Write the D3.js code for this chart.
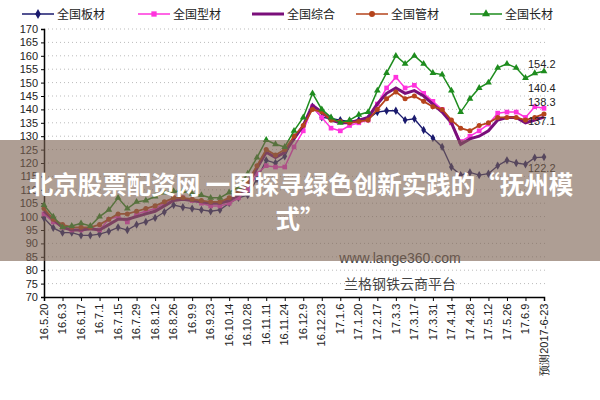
<!DOCTYPE html>
<html><head><meta charset="utf-8">
<script src="https://cdn.jsdelivr.net/npm/d3@7"></script>
<style>body{margin:0;background:#fff}svg{display:block}</style></head>
<body><svg id="c" width="600" height="400"></svg>
<script>
const categories=["16.5.20","16.5.27","16.6.3","16.6.10","16.6.17","16.6.24","16.7.1","16.7.8","16.7.15","16.7.22","16.7.29","16.8.5","16.8.12","16.8.19","16.8.26","16.9.2","16.9.9","16.9.16","16.9.23","16.9.30","16.10.14","16.10.21","16.10.28","16.11.4","16.11.11","16.11.18","16.11.24","16.12.2","16.12.9","16.12.16","16.12.23","16.12.30","17.1.6","17.1.13","17.1.20","17.2.10","17.2.17","17.2.24","17.3.3","17.3.10","17.3.17","17.3.24","17.3.31","17.4.7","17.4.14","17.4.21","17.4.28","17.5.5","17.5.12","17.5.19","17.5.26","17.6.2","17.6.9","17.6.16","预测2017-6-23"];
const yTicks=[70,75,80,85,90,95,100,105,110,115,120,125,130,135,140,145,150,155,160,165,170];
const seriesNames=["全国板材","全国型材","全国综合","全国管材","全国长材"];
const plate=[99.5,95.8,94,94,93,93,93.5,94.5,96,95,97,98,99.5,101.7,104.3,103.5,103,102.5,102,102.5,105,107,108,114,121,120,122.5,129.7,133.5,141,137,136.6,136,135.5,136,136.5,139,139.5,139.5,136,136.5,132.3,129.3,126,118.5,115.5,116.5,115.5,116,119,121,120,119.5,122,122.2];
const section=[101,98,96,95,95,96,95,99,100,98,101,102,103,105,107,107,106,105,104,104,105,107,110,116,119,118.5,118.5,126,132,141,137,133,132,134,135,136,142,148,152,148,149,146,143,140,135,128,130,132,134.5,138.6,139,139,137,141,140.4];
const composite=[102,99,96,95,95,95.5,95,97,99,99,100,101,102,104,106,106.5,106,105.5,105,105,106,108,112,118,124,122,124,129,134,141.5,139,136,135,135,136,137,142,146,148,146,147,145,142,139,135,127,129,130,132,136,137,137,135,136,137.1];
const pipe=[103,99,97,96,96,96,97,99,101,101,102,103,104,105.5,107,107,106.5,106,105.5,105.5,107,109,113,119,125,123,125,130,134,140,139,136,135.5,135,135.5,136,140,144,146.5,144,145,143,141,140,136,133,132,134,135,137,137,137,136,137,138.3];
const longp=[104.3,100,96,96.5,97.5,96.5,100,102.5,107,103,105.5,106,107.5,109,109.5,109.5,108.5,108,107,107,109,111,116,122,128.6,127,126,132,137,146,140,137,135,136,138,139,147,153.6,160,157,160,157,153.6,153,147,139,144,148,150,155.5,157,155.5,151.7,153.5,154.2];
const endValues=[122.2,137.1,138.3,140.4,154.2];

const svg=d3.select("#c");
const x=d3.scalePoint().domain(categories).range([44,544]);
const y=d3.scaleLinear().domain([70,170]).range([297,29]);
const font="'Liberation Sans',Arial,sans-serif";

svg.append("g").selectAll("line").data(yTicks.slice(1)).join("line")
 .attr("x1",44).attr("x2",548).attr("y1",d=>y(d)).attr("y2",d=>y(d))
 .attr("stroke","#bbb").attr("stroke-dasharray","1,3");
const ya=svg.append("g").attr("transform","translate(44,0)").call(d3.axisLeft(y).tickValues(yTicks).tickSize(3));
ya.select(".domain").attr("stroke","#000").attr("stroke-width",1.5);
ya.selectAll("text").attr("font-family",font).attr("font-size",11).attr("fill","#222");
const xa=svg.append("g").attr("transform","translate(0,297)").call(d3.axisBottom(x).tickValues(categories.filter((d,i)=>i%2==0)).tickSize(4));
xa.select(".domain").attr("stroke","#000").attr("stroke-width",1.5);
xa.selectAll("text").attr("font-family",font).attr("font-size",11).attr("fill","#222")
 .attr("transform","rotate(-90)").attr("text-anchor","end").attr("dx","-0.6em").attr("dy","-0.35em");

const defs=[
 {name:seriesNames[0],data:plate,color:"#1a1a6e",w:1.3,m:"diamond"},
 {name:seriesNames[1],data:section,color:"#ff33dd",w:1.5,m:"square"},
 {name:seriesNames[2],data:composite,color:"#7a0f7a",w:3,m:"none"},
 {name:seriesNames[3],data:pipe,color:"#b5441c",w:1.8,m:"circle"},
 {name:seriesNames[4],data:longp,color:"#1e8c1e",w:1.5,m:"triangle"}];
const sym={diamond:d3.symbolDiamond,square:d3.symbolSquare,circle:d3.symbolCircle,triangle:d3.symbolTriangle};
const line=d3.line().x((d,i)=>x(categories[i])).y(d=>y(d));
defs.forEach(s=>{
 svg.append("path").attr("d",line(s.data)).attr("fill","none").attr("stroke",s.color).attr("stroke-width",s.w);
 if(s.m!=="none") svg.append("g").selectAll("path").data(s.data).join("path")
  .attr("transform",(d,i)=>`translate(${x(categories[i])},${y(d)})`)
  .attr("d",d3.symbol(sym[s.m],s.m==="square"?22:20)).attr("fill",s.color);
});
const endY=[172,125,106,92,68];
endValues.forEach((v,i)=>{
 svg.append("text").attr("x",528).attr("y",endY[i]).text(v.toFixed(1)).attr("font-family",font).attr("font-size",11).attr("fill","#222");
});
const lx=[22,138,252,356,470];
defs.forEach((s,i)=>{
 const g=svg.append("g").attr("transform",`translate(${lx[i]},14)`);
 g.append("line").attr("x1",0).attr("x2",32).attr("stroke",s.color).attr("stroke-width",s.m==="none"?3:1.5);
 if(s.m!=="none") g.append("path").attr("transform","translate(16,0)").attr("d",d3.symbol(sym[s.m],28)).attr("fill",s.color);
 g.append("text").attr("x",35).attr("y",5).text(s.name).attr("font-family","'Noto Sans CJK SC'").attr("font-size",12).attr("fill","#222");
});
svg.append("text").attr("x",400).attr("y",263).attr("text-anchor","middle").text("www.lange360.com").attr("font-family",font).attr("font-size",14).attr("fill","#444");
svg.append("text").attr("x",400).attr("y",289).attr("text-anchor","middle").text("兰格钢铁云商平台").attr("font-family","'Noto Sans CJK SC'").attr("font-size",14).attr("fill","#444");
svg.append("rect").attr("x",0).attr("y",140).attr("width",600).attr("height",121).attr("fill","#7d6252").attr("opacity",0.62);
const t=svg.append("g").attr("font-family","'Noto Sans CJK SC'").attr("font-weight","bold").attr("font-size",24.5).attr("fill","#fff").attr("text-anchor","middle");
t.append("text").attr("x",301).attr("y",194).text("北京股票配资网 一图探寻绿色创新实践的“抚州模");
t.append("text").attr("x",300).attr("y",228).text("式”");
</script></body></html>
